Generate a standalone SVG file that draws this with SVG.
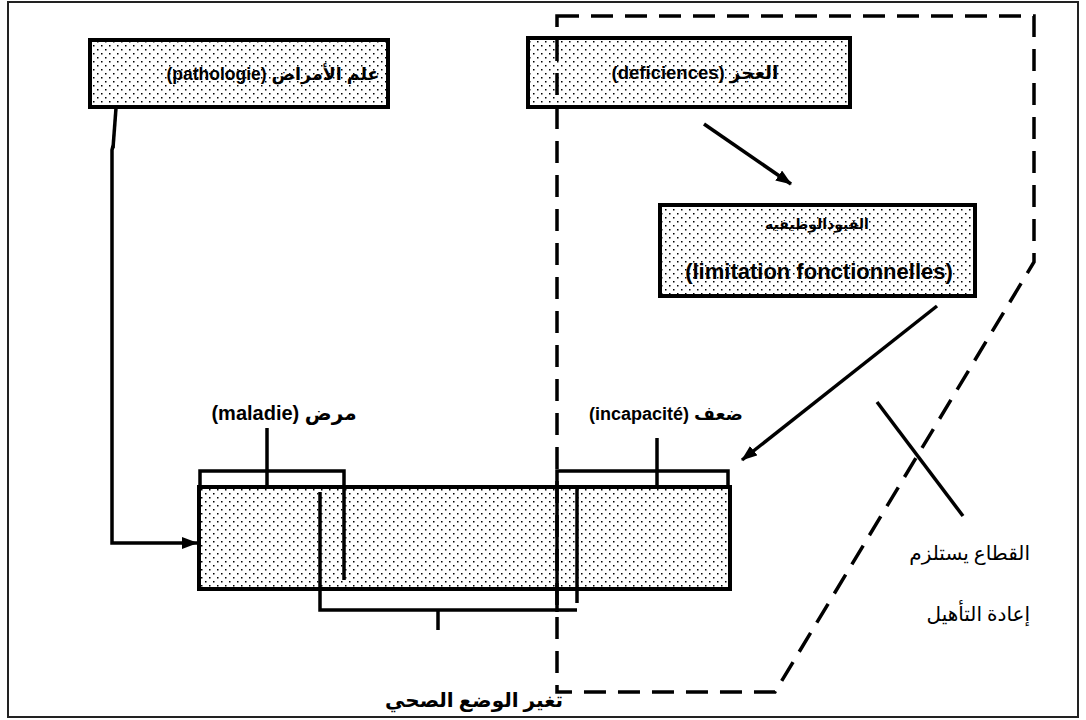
<svg xmlns="http://www.w3.org/2000/svg" width="1086" height="720" viewBox="0 0 1086 720">
  <defs>
    <!-- stippled fill used by every box -->
    <pattern id="dots" width="8" height="8" patternUnits="userSpaceOnUse">
      <rect width="8" height="8" fill="#fff"/>
      <rect x="1" y="1" width="1.5" height="1.5" fill="#000"/>
      <rect x="5" y="5" width="1.5" height="1.5" fill="#000"/>
    </pattern>
    <marker id="arrow" viewBox="0 0 16 12" refX="15" refY="6" markerWidth="16" markerHeight="12" markerUnits="userSpaceOnUse" orient="auto">
      <path d="M0,0 L16,6 L0,12 Z" fill="#000"/>
    </marker>
  </defs>
  <style>
    .box{fill:url(#dots);stroke:#000;stroke-width:4}
    .ln{fill:none;stroke:#000;stroke-width:3.5}
    .dash{fill:none;stroke:#000;stroke-width:3.5;stroke-dasharray:22 12}
    .lbl{font-family:"Liberation Sans","DejaVu Sans",sans-serif;font-weight:bold;fill:#000}
    .ar{font-family:"Liberation Serif","DejaVu Sans",serif;fill:#000}
  </style>

  <!-- outer frame -->
  <rect x="8" y="2" width="1070" height="715" fill="#fff" stroke="#222" stroke-width="2"/>

  <!-- connectors -->
  <g id="connectors">
    <path class="ln" d="M116,108 L113,148" stroke-width="5"/>
    <path class="ln" d="M113,146 L112,150 V543 H197" marker-end="url(#arrow)"/>
    <path class="ln" d="M704,124 L791,184" marker-end="url(#arrow)"/>
    <path class="ln" d="M937,306 L742,460" marker-end="url(#arrow)"/>
  </g>

  <!-- top-left box -->
  <g id="pathologie">
    <rect class="box" x="90" y="40" width="298" height="67"/>
    <text class="lbl" x="273" y="80" font-size="17.5" text-anchor="middle">(pathologie) علم الأمراض</text>
  </g>

  <!-- top-right box -->
  <g id="deficiences">
    <rect class="box" x="528" y="38" width="322" height="69"/>
    <text class="lbl" x="695" y="79" font-size="18.5" text-anchor="middle">(deficiences) العجز</text>
  </g>

  <!-- middle-right box -->
  <g id="limitation">
    <rect class="box" x="660" y="205" width="315" height="91"/>
    <text class="lbl" x="817" y="229" font-size="14" text-anchor="middle">القيودالوظيفيه</text>
    <text class="lbl" x="819" y="279" font-size="22" text-anchor="middle">(limitation fonctionnelles)</text>
  </g>

  <!-- central state box with its brackets -->
  <g id="etat">
    <rect class="box" x="199" y="487" width="531" height="102"/>
    <!-- maladie bracket -->
    <path class="ln" d="M200,487 V471 H344 V580"/>
    <path class="ln" d="M267,428 V487"/>
    <!-- incapacité bracket -->
    <path class="ln" d="M557,612 V471 H728 V487"/>
    <path class="ln" d="M657,438 V487"/>
    <!-- lower bracket -->
    <path class="ln" d="M320,492 V610 H577"/>
    <path class="ln" d="M577,489 V603"/>
    <path class="ln" d="M438,610 V630"/>
  </g>

  <g id="labels">
    <text class="lbl" x="284" y="420" font-size="20" text-anchor="middle">(maladie) مرض</text>
    <text class="lbl" x="666" y="420" font-size="18" text-anchor="middle">(incapacité) ضعف</text>
    <text class="ar" x="474" y="707" font-size="20" font-weight="bold" text-anchor="middle">تغير الوضع الصحي</text>
  </g>

  <!-- rehabilitation zone -->
  <g id="rehabilitation">
    <path class="dash" d="M557,16 H1034 V262 L775,692 H557 Z"/>
    <path class="ln" d="M877,402 L963,516" stroke-width="3"/>
    <text class="ar" x="1030" y="560" font-size="20" text-anchor="end">القطاع يستلزم</text>
    <text class="ar" x="1030" y="621" font-size="20" text-anchor="end">إعادة التأهيل</text>
  </g>
</svg>
